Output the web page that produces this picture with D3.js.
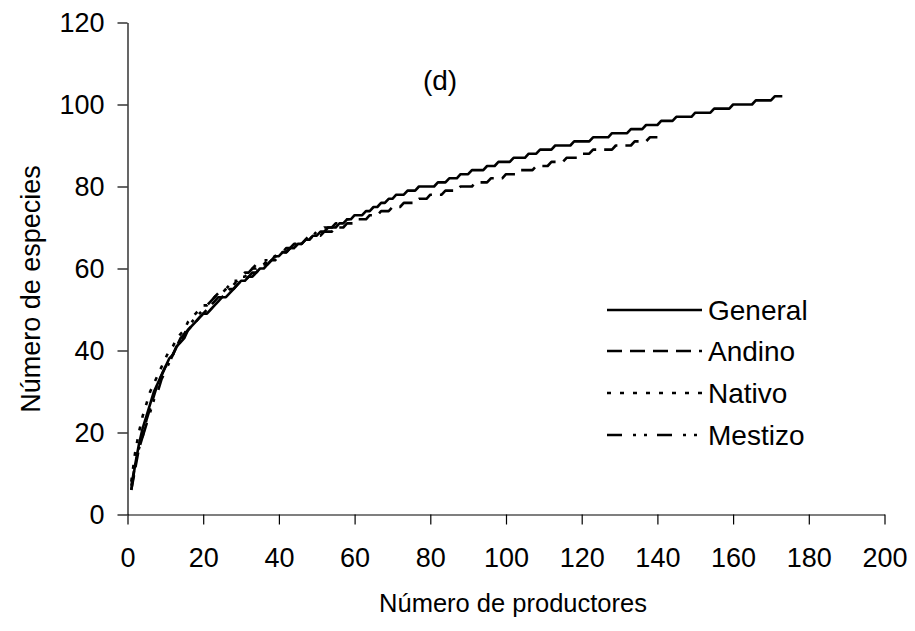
<!DOCTYPE html>
<html>
<head>
<meta charset="utf-8">
<script src="https://cdn.jsdelivr.net/npm/d3@7"></script>
<style>
  html, body { margin: 0; padding: 0; background: #fff; }
  svg { display: block; }
  text { font-family: "Liberation Sans", Arial, sans-serif; fill: #000; }
</style>
</head>
<body>
<svg id="chart" width="915" height="631"></svg>
<script>
// Species accumulation: number of species recorded after n producers (n = 1, 2, 3, ...)
const generalSpecies = [
  6,12,17,21,24,27,30,32,34,36,
  38,39,41,42,43,45,46,47,48,49,
  49,50,51,52,53,53,54,55,56,57,
  57,58,58,59,60,60,61,62,63,63,
  64,64,65,65,66,66,67,67,68,68,
  69,69,70,70,70,71,71,72,72,73,
  73,73,74,74,75,75,76,76,77,77,
  78,78,78,79,79,79,80,80,80,80,
  80,81,81,81,82,82,82,83,83,83,
  84,84,84,84,85,85,85,86,86,86,
  86,87,87,87,87,88,88,88,89,89,
  89,89,90,90,90,90,90,91,91,91,
  91,91,92,92,92,92,92,93,93,93,
  93,93,94,94,94,94,95,95,95,95,
  96,96,96,96,97,97,97,97,97,98,
  98,98,98,98,99,99,99,99,99,100,
  100,100,100,100,100,101,101,101,101,101,
  102,102,102
];
const andinoSpecies = [
  6,11,16,19,23,26,29,32,34,36,
  37,39,41,42,44,45,46,47,48,49,
  50,51,52,53,53,54,55,55,56,57,
  57,58,59,59,60,61,61,62,62,63,
  64,64,65,65,66,66,67,67,68,68,
  68,69,69,69,70,70,70,71,71,71,
  72,72,72,73,73,73,74,74,74,75,
  75,75,76,76,76,76,77,77,77,78,
  78,78,78,79,79,79,79,80,80,80,
  80,81,81,81,81,82,82,82,82,83,
  83,83,83,84,84,84,84,85,85,85,
  85,86,86,86,86,87,87,87,87,88,
  88,88,89,89,89,89,89,89,90,90,
  90,90,90,91,91,91,91,92,92,92
];
const nativoSpecies = [
  8,15,20,24,27,30,32,34,36,38,
  40,41,43,44,45,47,48,49,50,51,
  51,52,53,54,54,55,56,56,57,58,
  58,59,60,60,61,61,62,62,63,63,
  64,64,65,65,66
];
const mestizoSpecies = [
  7,12,16,19,22,25,28,30,33,35,
  37,39,41,43,44,46,47,48,49,50,
  51,52,53,54,55,55,56,57,57,58,
  59,59,60,61,61,62,62,63,63,64,
  64,65,65,66,66,67,67,68,68,69,
  69,70,70,70,71,71,71,72,72,72
];

const seriesNames = ["General", "Andino", "Nativo", "Mestizo"];
const seriesValues = [generalSpecies, andinoSpecies, nativoSpecies, mestizoSpecies];
const seriesDash = [null, "15,8", "4,9", "15,11,3,8,3,10"];

const xTicks = [0, 20, 40, 60, 80, 100, 120, 140, 160, 180, 200];
const yTicks = [0, 20, 40, 60, 80, 100, 120];
const xTitle = "Número de productores";
const yTitle = "Número de especies";
const panelLabel = "(d)";

const svg = d3.select("#chart");
const fontSize = 27;

const x = d3.scaleLinear().domain([0, 200]).range([127.5, 884.5]);
const y = d3.scaleLinear().domain([0, 120]).range([514.5, 22.5]);

// Axes
const xAxis = d3.axisBottom(x).tickValues(xTicks).tickSize(10).tickSizeOuter(0).tickPadding(23);
const yAxis = d3.axisLeft(y).tickValues(yTicks).tickSize(10).tickSizeOuter(0).tickPadding(13);

const gx = svg.append("g").attr("transform", `translate(0,${y(0)})`).call(xAxis);
const gy = svg.append("g").attr("transform", `translate(${x(0)},0)`).call(yAxis);

[gx, gy].forEach(g => {
  g.selectAll("path.domain").attr("stroke", "#000").attr("stroke-width", 1.2);
  g.selectAll(".tick line").attr("stroke", "#000").attr("stroke-width", 1.2);
  g.selectAll(".tick text")
    .attr("font-family", '"Liberation Sans", Arial, sans-serif')
    .attr("font-size", fontSize)
    .attr("fill", "#000");
});

// Curves
const line = d3.line()
  .x((d, i) => x(i + 1))
  .y(d => y(d))
  .curve(d3.curveLinear);

const curves = svg.append("g");
seriesValues.forEach((vals, i) => {
  curves.append("path")
    .datum(vals)
    .attr("d", line)
    .attr("fill", "none")
    .attr("stroke", "#000")
    .attr("stroke-width", 2.6)
    .attr("stroke-linejoin", "round")
    .attr("stroke-dasharray", seriesDash[i]);
});

// Titles
svg.append("text")
  .attr("x", 513).attr("y", 612)
  .attr("text-anchor", "middle")
  .attr("font-size", 25.5)
  .text(xTitle);

svg.append("text")
  .attr("transform", "translate(40,289) rotate(-90)")
  .attr("text-anchor", "middle")
  .attr("font-size", fontSize)
  .text(yTitle);

svg.append("text")
  .attr("x", 440).attr("y", 90)
  .attr("text-anchor", "middle")
  .attr("font-size", 28)
  .text(panelLabel);

// Legend
const legendRows = [310, 351, 393, 435];
const legend = svg.append("g");
seriesNames.forEach((name, i) => {
  legend.append("line")
    .attr("x1", 607).attr("x2", 702)
    .attr("y1", legendRows[i]).attr("y2", legendRows[i])
    .attr("stroke", "#000")
    .attr("stroke-width", 2.6)
    .attr("stroke-dasharray", seriesDash[i]);
  legend.append("text")
    .attr("x", 708).attr("y", legendRows[i] + 10)
    .attr("font-size", 28)
    .text(name);
});
</script>
</body>
</html>
